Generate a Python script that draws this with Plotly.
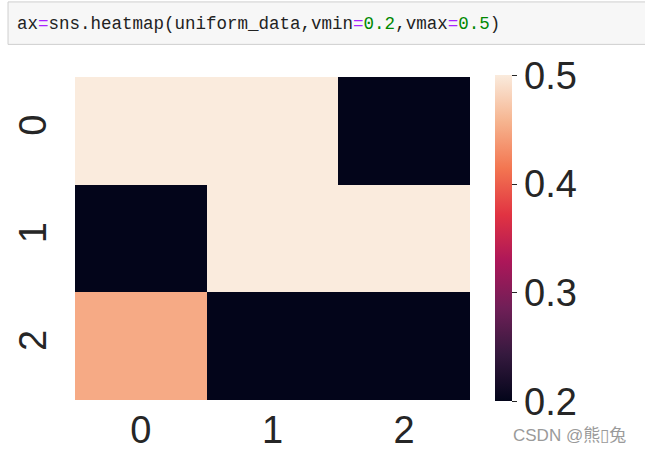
import plotly.graph_objects as go

# ---- data ----
x_labels = ["0", "1", "2"]
y_labels = ["0", "1", "2"]
row_0 = [0.5, 0.5, 0.2]
row_1 = [0.2, 0.5, 0.5]
row_2 = [0.45, 0.2, 0.2]
vmin, vmax = 0.2, 0.5
cbar_ticks = [0.2, 0.3, 0.4, 0.5]

rocket = [
    [0.0, "#03051a"],
    [0.143, "#35193e"],
    [0.286, "#701f57"],
    [0.429, "#ad1759"],
    [0.571, "#e13342"],
    [0.714, "#f37651"],
    [0.857, "#f6b48f"],
    [1.0, "#faebdd"],
]

W, H = 645, 463
L, R, T, B = 69, 470, 77, 404
pw, ph = R - L, B - T


def px(x):
    return (x - L) / pw


def py(y):
    return (B - y) / ph


font_main = "Liberation Sans, Arial, sans-serif"
tick_color = "#262626"

fig = go.Figure(
    go.Heatmap(
        z=[row_0, row_1, row_2],
        x=x_labels,
        y=y_labels,
        zmin=vmin,
        zmax=vmax,
        colorscale=rocket,
        colorbar=dict(
            thickness=17,
            thicknessmode="pixels",
            len=326,
            lenmode="pixels",
            x=px(495),
            xanchor="left",
            y=0.5,
            yanchor="middle",
            outlinewidth=0,
            tickvals=cbar_ticks,
            ticktext=[f"{v:.1f}" for v in cbar_ticks],
            ticks="outside",
            ticklen=5,
            tickwidth=1.3,
            tickcolor=tick_color,
            tickfont=dict(family=font_main, size=38, color=tick_color),
            xpad=0,
            ypad=0,
        ),
        hoverinfo="skip",
    )
)

code_html = (
    "ax<span style='color:#aa22ff'>=</span>sns.heatmap(uniform_data,vmin"
    "<span style='color:#aa22ff'>=</span><span style='color:#008800'>0.2</span>,vmax"
    "<span style='color:#aa22ff'>=</span><span style='color:#008800'>0.5</span>)"
)

fig.update_layout(
    width=W,
    height=H,
    margin=dict(l=L, r=W - R, t=T, b=H - B, pad=0),
    paper_bgcolor="white",
    plot_bgcolor="white",
    xaxis=dict(
        showgrid=False,
        zeroline=False,
        showline=False,
        ticks="",
        tickfont=dict(family=font_main, size=38, color=tick_color),
        ticklabelstandoff=4,
    ),
    yaxis=dict(
        autorange="reversed",
        showgrid=False,
        zeroline=False,
        showline=False,
        ticks="",
        tickangle=-90,
        tickfont=dict(family=font_main, size=38, color=tick_color),
        ticklabelstandoff=20,
    ),
    shapes=[
        dict(
            type="rect",
            xref="paper",
            yref="paper",
            x0=px(1),
            x1=px(660),
            y0=py(44),
            y1=py(1),
            fillcolor="#f7f7f7",
            line=dict(color="#cfcfcf", width=1),
            layer="below",
        )
    ],
    annotations=[
        dict(
            text=code_html,
            xref="paper",
            yref="paper",
            x=px(8),
            y=py(23),
            xanchor="left",
            yanchor="middle",
            showarrow=False,
            font=dict(family="Liberation Mono, monospace", size=17.5, color="#222222"),
        ),
        dict(
            text="CSDN @熊▯兔",
            xref="paper",
            yref="paper",
            x=px(512),
            y=py(440),
            xanchor="left",
            yanchor="middle",
            showarrow=False,
            font=dict(family="Liberation Sans, Noto Sans CJK SC, sans-serif", size=17, color="#9a9a9a"),
        ),
    ],
)

fig.write_html(
    "out.html",
    config={"displayModeBar": False},
    post_script="document.body.style.margin='0';document.body.style.overflow='hidden';",
)
